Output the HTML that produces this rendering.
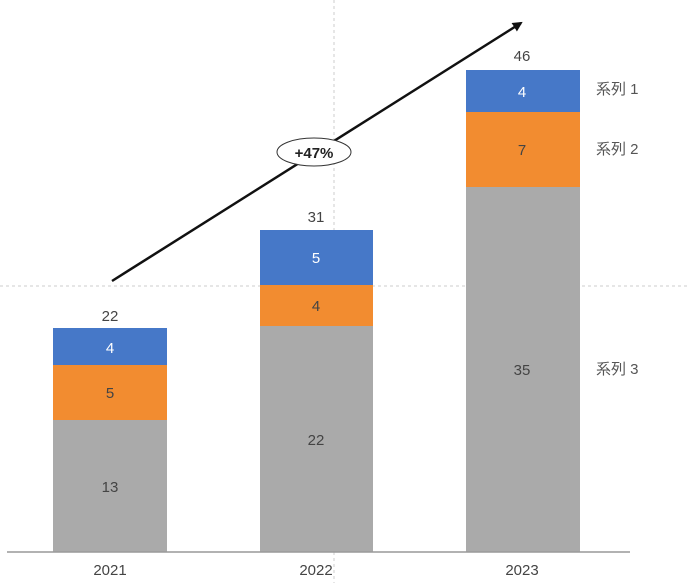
<!DOCTYPE html>
<html><head><meta charset="utf-8"><style>
html,body{margin:0;padding:0;background:#fff;}
svg text{font-family:"Liberation Sans","Noto Sans CJK JP",sans-serif;}
</style></head><body>
<svg width="690" height="583" viewBox="0 0 690 583" xmlns="http://www.w3.org/2000/svg">
<defs><marker id="ah" markerWidth="10" markerHeight="10" refX="8" refY="5" orient="auto" markerUnits="userSpaceOnUse"><path d="M0,0 L10,5 L0,10 Z" fill="#111"/></marker></defs>
<line x1="334" y1="0" x2="334" y2="583" stroke="#ccc" stroke-dasharray="3,3"/>
<line x1="0" y1="286" x2="690" y2="286" stroke="#ccc" stroke-dasharray="3,3"/>
<!-- 2021 -->
<rect x="53" y="328" width="114" height="37" fill="#4678c8"/>
<rect x="53" y="365" width="114" height="55" fill="#f28c30"/>
<rect x="53" y="420" width="114" height="132" fill="#aaaaaa"/>
<!-- 2022 -->
<rect x="260" y="230" width="113" height="55" fill="#4678c8"/>
<rect x="260" y="285" width="113" height="41" fill="#f28c30"/>
<rect x="260" y="326" width="113" height="226" fill="#aaaaaa"/>
<!-- 2023 -->
<rect x="466" y="70" width="114" height="42" fill="#4678c8"/>
<rect x="466" y="112" width="114" height="75" fill="#f28c30"/>
<rect x="466" y="187" width="114" height="365" fill="#aaaaaa"/>
<line x1="7" y1="552" x2="630" y2="552" stroke="#999" stroke-width="1.5"/>
<g font-size="15" text-anchor="middle" fill="#444">
<text x="110" y="321">22</text><text x="316" y="222">31</text><text x="522" y="61">46</text>
<text x="110" y="353" fill="#fff">4</text><text x="110" y="398">5</text><text x="110" y="492">13</text>
<text x="316" y="263" fill="#fff">5</text><text x="316" y="311">4</text><text x="316" y="445">22</text>
<text x="522" y="97" fill="#fff">4</text><text x="522" y="155">7</text><text x="522" y="375">35</text>
<text x="110" y="575">2021</text><text x="316" y="575">2022</text><text x="522" y="575">2023</text>
</g>
<g font-size="15" fill="#555">
<text x="596" y="94">系列 1</text><text x="596" y="154">系列 2</text><text x="596" y="374">系列 3</text>
</g>
<line x1="112" y1="281" x2="521" y2="23" stroke="#111" stroke-width="2.5" marker-end="url(#ah)"/>
<ellipse cx="314" cy="152" rx="37" ry="14" fill="#fff" stroke="#333" stroke-width="1"/>
<text x="314" y="158" font-size="15" font-weight="bold" text-anchor="middle" fill="#222">+47%</text>
</svg>
</body></html>
